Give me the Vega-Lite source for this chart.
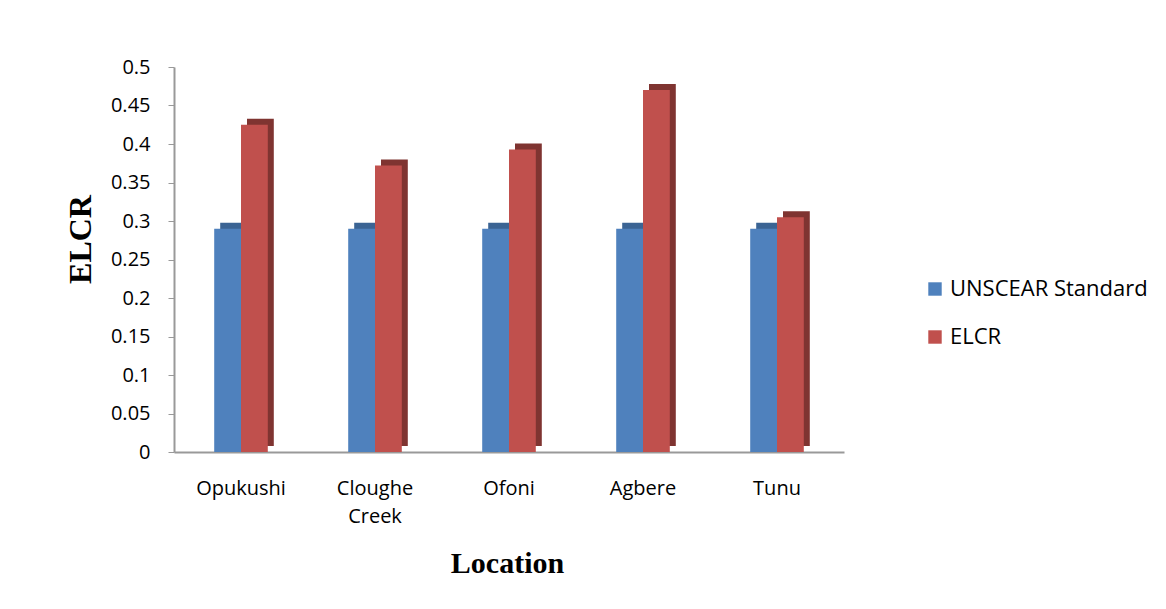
{
  "$schema": "https://vega.github.io/schema/vega-lite/v6.json",
  "width": 670,
  "height": 385,
  "autosize": "none",
  "padding": {"left": 174, "top": 67, "right": 322, "bottom": 157},
  "background": "white",
  "config": {"view": {"stroke": null}},
  "data": {
    "values": [
      {"location": "Opukushi", "series": "UNSCEAR Standard", "value": 0.29},
      {"location": "Opukushi", "series": "ELCR", "value": 0.425},
      {"location": "Cloughe Creek", "series": "UNSCEAR Standard", "value": 0.29},
      {"location": "Cloughe Creek", "series": "ELCR", "value": 0.372},
      {"location": "Ofoni", "series": "UNSCEAR Standard", "value": 0.29},
      {"location": "Ofoni", "series": "ELCR", "value": 0.393},
      {"location": "Agbere", "series": "UNSCEAR Standard", "value": 0.29},
      {"location": "Agbere", "series": "ELCR", "value": 0.47},
      {"location": "Tunu", "series": "UNSCEAR Standard", "value": 0.29},
      {"location": "Tunu", "series": "ELCR", "value": 0.305}
    ]
  },
  "encoding": {
    "x": {
      "field": "location",
      "type": "nominal",
      "sort": ["Opukushi", "Cloughe Creek", "Ofoni", "Agbere", "Tunu"],
      "scale": {"paddingInner": 0.6, "paddingOuter": 0.3},
      "axis": {
        "title": "Location",
        "titleFont": "Liberation Serif",
        "titleFontSize": 30,
        "titleFontWeight": "bold",
        "titleColor": "black",
        "titleX": 333,
        "titleY": 111,
        "titleBaseline": "middle",
        "labelAngle": 0,
        "labelFont": "Open Sans",
        "labelFontSize": 20,
        "labelColor": "black",
        "labelPadding": 26,
        "labelLineHeight": 28,
        "labelExpr": "datum.label == 'Cloughe Creek' ? ['Cloughe', 'Creek'] : datum.label",
        "ticks": false,
        "domainColor": "#999999",
        "domainWidth": 2
      }
    },
    "y": {
      "field": "value",
      "type": "quantitative",
      "scale": {"domain": [0, 0.5], "nice": false},
      "axis": {
        "title": "ELCR",
        "titleFont": "Liberation Serif",
        "titleFontSize": 32,
        "titleFontWeight": "bold",
        "titleColor": "black",
        "titleX": -94,
        "titleY": 172,
        "titleAngle": -90,
        "titleAlign": "center",
        "titleBaseline": "middle",
        "values": [0, 0.05, 0.1, 0.15, 0.2, 0.25, 0.3, 0.35, 0.4, 0.45, 0.5],
        "format": "~g",
        "labelFont": "Open Sans",
        "labelFontSize": 20,
        "labelColor": "black",
        "labelPadding": 18,
        "grid": false,
        "tickSize": 6,
        "tickColor": "#999999",
        "domainColor": "#999999",
        "domainWidth": 2
      }
    }
  },
  "layer": [
    {
      "mark": {"type": "bar", "yOffset": -6, "y2Offset": -6},
      "encoding": {
        "xOffset": {"field": "series", "sort": ["UNSCEAR Standard", "ELCR"], "scale": {"range": [6, 59.6], "paddingInner": 0, "paddingOuter": 0}},
        "color": {
          "condition": {"test": "datum.series == 'ELCR'", "value": "#7F3431"},
          "value": "#3B6494"
        }
      }
    },
    {
      "mark": {"type": "bar"},
      "encoding": {
        "xOffset": {"field": "series", "sort": ["UNSCEAR Standard", "ELCR"]},
        "color": {
          "field": "series",
          "type": "nominal",
          "sort": ["UNSCEAR Standard", "ELCR"],
          "scale": {"domain": ["UNSCEAR Standard", "ELCR"], "range": ["#4F81BD", "#C0504D"]},
          "legend": {
            "title": null,
            "orient": "none",
            "legendX": 750,
            "legendY": 211,
            "symbolType": "square",
            "symbolSize": 180,
            "symbolStrokeWidth": 0,
            "labelFont": "Open Sans",
            "labelFontSize": 22,
            "labelLimit": 0,
            "labelColor": "black",
            "rowPadding": 26
          }
        }
      }
    }
  ],
  "resolve": {"scale": {"xOffset": "independent"}}
}
